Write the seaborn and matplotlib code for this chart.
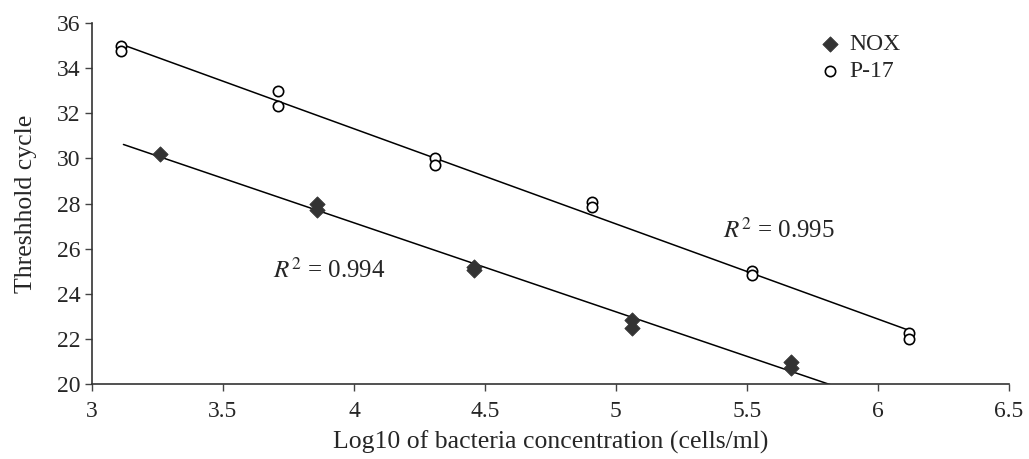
import numpy as np
import pandas as pd
import matplotlib
matplotlib.use("Agg")
import matplotlib.pyplot as plt
import seaborn as sns

# Threshold cycle vs log10 bacteria concentration, two primer sets
nox_x = [3.26, 3.86, 3.86, 4.46, 4.46, 5.06, 5.06, 5.67, 5.67]
nox_ct = [30.2, 28.0, 27.7, 25.2, 25.05, 22.85, 22.5, 21.0, 20.7]
p17_x = [3.11, 3.11, 3.71, 3.71, 4.31, 4.31, 4.91, 4.91, 5.52, 5.52, 6.12, 6.12]
p17_ct = [35.0, 34.75, 33.0, 32.3, 30.0, 29.7, 28.05, 27.85, 25.0, 24.85, 22.25, 22.0]
r2_labels = {'NOX': '0.994', 'P-17': '0.995'}

sns.set_style('ticks')
plt.rcParams['font.family'] = ['Liberation Serif', 'DejaVu Serif']
plt.rcParams['mathtext.fontset'] = 'stix'

df = pd.concat([
    pd.DataFrame({'x': nox_x, 'ct': nox_ct, 'strain': 'NOX'}),
    pd.DataFrame({'x': p17_x, 'ct': p17_ct, 'strain': 'P-17'}),
])

fig = plt.figure(figsize=(10.29, 4.59), dpi=100)
ax = fig.add_axes([0.0894, 0.163, 0.891, 0.787])

# trend lines (fitted, extended a little like the Excel trendlines)
for name, xs, ys, x0, x1 in [('NOX', nox_x, nox_ct, 3.12, 6.2),
                             ('P-17', p17_x, p17_ct, 3.11, 6.12)]:
    slope, icpt = np.polyfit(xs, ys, 1)
    xx = np.array([x0, x1])
    ax.plot(xx, slope * xx + icpt, color='black', lw=1.1, zorder=1)

sns.scatterplot(data=df[df.strain == 'NOX'], x='x', y='ct', ax=ax,
                marker='D', s=60, color='#333333', edgecolor='#333333',
                label='NOX', zorder=3)
sns.scatterplot(data=df[df.strain == 'P-17'], x='x', y='ct', ax=ax,
                marker='o', s=55, facecolor='white', edgecolor='black',
                linewidth=1.2, label='P-17', zorder=3)

ax.text(5.41, 26.8, r'$R^2$ = ' + r2_labels['P-17'], fontsize=18,
        va='center', ha='left')
ax.text(3.69, 25.05, r'$R^2$ = ' + r2_labels['NOX'], fontsize=18,
        va='center', ha='left')

ax.set_xlim(3, 6.5)
ax.set_ylim(20, 36)
ax.set_xticks(np.arange(3, 6.51, 0.5))
ax.set_xticklabels(['3', '3.5', '4', '4.5', '5', '5.5', '6', '6.5'])
ax.set_yticks(np.arange(20, 36.1, 2))
ax.tick_params(labelsize=17, length=5, width=1, color='#444444')
ax.tick_params(axis='x', pad=7)
for side in ['left', 'bottom']:
    ax.spines[side].set_color('#333333')
    ax.spines[side].set_linewidth(1.2)
sns.despine(ax=ax)

ax.set_xlabel('Log10 of bacteria concentration (cells/ml)', fontsize=18.5,
              labelpad=6)
ax.set_ylabel('Threshhold cycle', fontsize=18.5, labelpad=14)

leg = ax.legend(loc='upper right', bbox_to_anchor=(0.905, 1.03), frameon=False,
                fontsize=17, handletextpad=0.3, labelspacing=0.25,
                handlelength=1.0)

fig.savefig('out.png', dpi=100, facecolor='white')
